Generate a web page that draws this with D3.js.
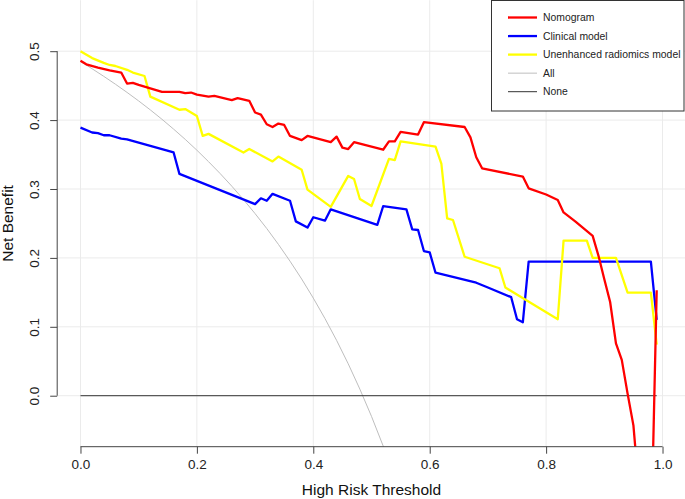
<!DOCTYPE html>
<html><head><meta charset="utf-8">
<script src="https://cdn.jsdelivr.net/npm/d3@7"></script>
<style>
html,body{margin:0;padding:0;background:#fff;}
svg{display:block;font-family:"Liberation Sans",Arial,Helvetica,sans-serif;}
</style></head>
<body><svg id="chart" width="685" height="499"></svg>
<script>
// ---- data ----
const xTicks = [0, 0.2, 0.4, 0.6, 0.8, 1.0];
const yTicks = [0, 0.1, 0.2, 0.3, 0.4, 0.5];

const nomogramX = [0,0.01,0.03,0.05,0.07,0.08,0.09,0.10,0.12,0.14,0.17,0.18,0.19,0.20,0.22,0.23,0.26,0.27,0.29,0.30,0.31,0.32,0.33,0.34,0.35,0.36,0.38,0.39,0.43,0.44,0.45,0.46,0.47,0.52,0.53,0.54,0.55,0.58,0.59,0.66,0.67,0.68,0.69,0.76,0.77,0.80,0.82,0.83,0.85,0.88,0.89,0.90,0.91,0.92,0.93,0.94,0.95,0.96,0.97,0.98,0.99];
const nomogramY = [0.486,0.481,0.476,0.472,0.469,0.453,0.454,0.451,0.446,0.441,0.441,0.439,0.440,0.437,0.434,0.435,0.429,0.432,0.428,0.411,0.408,0.394,0.390,0.395,0.393,0.377,0.371,0.377,0.368,0.376,0.360,0.358,0.368,0.357,0.369,0.369,0.383,0.379,0.397,0.390,0.375,0.346,0.330,0.318,0.301,0.292,0.284,0.266,0.253,0.232,0.203,0.169,0.136,0.076,0.052,0.003,-0.043,-0.142,-0.190,-0.225,0.153];

const clinicalX = [0,0.02,0.03,0.04,0.05,0.07,0.08,0.16,0.17,0.30,0.31,0.32,0.33,0.36,0.37,0.39,0.40,0.42,0.43,0.51,0.52,0.56,0.57,0.58,0.59,0.60,0.61,0.68,0.70,0.74,0.75,0.76,0.77,0.98,0.99];
const clinicalY = [0.389,0.382,0.381,0.378,0.378,0.373,0.372,0.353,0.322,0.278,0.2865,0.283,0.293,0.283,0.253,0.244,0.259,0.254,0.2705,0.248,0.275,0.2705,0.2415,0.2405,0.210,0.208,0.1785,0.164,0.157,0.143,0.111,0.1065,0.1945,0.1945,0.110];

const radiomicsX = [0,0.02,0.04,0.05,0.06,0.08,0.09,0.11,0.12,0.17,0.18,0.20,0.21,0.22,0.28,0.29,0.33,0.34,0.38,0.39,0.43,0.46,0.47,0.48,0.50,0.53,0.54,0.55,0.61,0.62,0.63,0.64,0.66,0.72,0.73,0.82,0.83,0.87,0.88,0.92,0.94,0.98,0.99];
const radiomicsY = [0.500,0.490,0.483,0.480,0.4785,0.473,0.469,0.464,0.434,0.415,0.416,0.406,0.377,0.380,0.353,0.358,0.340,0.347,0.328,0.299,0.274,0.319,0.3145,0.2855,0.2753,0.3436,0.342,0.369,0.3614,0.337,0.2575,0.255,0.2017,0.185,0.157,0.111,0.225,0.225,0.200,0.200,0.1495,0.1495,0.074];

const allX = [0,0.02,0.04,0.06,0.08,0.10,0.12,0.14,0.16,0.18,0.20,0.22,0.24,0.26,0.28,0.30,0.32,0.34,0.36,0.38,0.40,0.42,0.44,0.46,0.48,0.50,0.52,0.54];
const allY = [0.485,0.4745,0.4635,0.4521,0.4402,0.4278,0.4148,0.4012,0.3869,0.3720,0.3563,0.3397,0.3224,0.3041,0.2847,0.2643,0.2427,0.2197,0.1953,0.1694,0.1417,0.1121,0.0804,0.0463,0.0096,-0.030,-0.0729,-0.119];

const noneX = [0, 0.99];
const noneY = [0, 0];

const seriesNames = ["Nomogram","Clinical model","Unenhanced radiomics model","All","None"];
const seriesColors = ["#ff0000","#0000ff","#ffff00","#bebebe","#333333"];
const seriesWidths = [2.3,2.3,2.3,1,1];

// ---- layout ----
const svg = d3.select("#chart");
const pLeft = 57.2, pRight = 685.8, pTop = 0.2, pBottom = 446.7;
const x = d3.scaleLinear().domain([-0.04, 1.04]).range([pLeft, pRight]);
const y = d3.scaleLinear().domain([-0.074, 0.574]).range([pBottom, pTop]);

// grid
const grid = svg.append("g");
grid.selectAll("line.vg").data(xTicks).enter().append("line")
  .attr("x1", d => x(d)).attr("x2", d => x(d)).attr("y1", pTop).attr("y2", pBottom)
  .attr("stroke", "#ebebeb").attr("stroke-width", 1);
grid.selectAll("line.hg").data(yTicks).enter().append("line")
  .attr("x1", pLeft).attr("x2", pRight).attr("y1", d => y(d)).attr("y2", d => y(d))
  .attr("stroke", "#ebebeb").attr("stroke-width", 1);

// clip
svg.append("defs").append("clipPath").attr("id","clip").append("rect")
  .attr("x", pLeft).attr("y", pTop).attr("width", pRight-pLeft).attr("height", pBottom-pTop);

const series = [
  {x: allX, y: allY, k: 3},
  {x: noneX, y: noneY, k: 4},
  {x: clinicalX, y: clinicalY, k: 1},
  {x: radiomicsX, y: radiomicsY, k: 2},
  {x: nomogramX, y: nomogramY, k: 0}
];
const line = d3.line().x(d => x(d[0])).y(d => y(d[1]));
const plot = svg.append("g").attr("clip-path","url(#clip)");
series.forEach(s => {
  const pts = s.x.map((v, j) => [v, s.y[j]]);
  plot.append("path").datum(pts)
    .attr("d", line)
    .attr("fill","none")
    .attr("stroke", seriesColors[s.k])
    .attr("stroke-width", seriesWidths[s.k])
    .attr("stroke-linejoin","round");
});

// axes
const axisColor = "#444";
const xAxis = d3.axisBottom(x).tickValues(xTicks).tickSize(7).tickPadding(6).tickFormat(d3.format(".1f"));
const gx = svg.append("g").attr("transform", `translate(0,${pBottom})`).call(xAxis);
gx.select(".domain").remove();
gx.append("line").attr("x1", x(0)).attr("x2", x(1)).attr("stroke", axisColor);
gx.selectAll(".tick line").attr("stroke", axisColor);
gx.selectAll(".tick text").attr("fill","#222").style("font-size","13.5px")
  .style("font-family",'"Liberation Sans",Arial,sans-serif');

const yAxis = d3.axisLeft(y).tickValues(yTicks).tickSize(7).tickFormat(d3.format(".1f"));
const gy = svg.append("g").attr("transform", `translate(${pLeft},0)`).call(yAxis);
gy.select(".domain").remove();
gy.append("line").attr("y1", y(0)).attr("y2", y(0.5)).attr("stroke", axisColor);
gy.selectAll(".tick line").attr("stroke", axisColor);
gy.selectAll(".tick text")
  .attr("x", null).attr("dy", null)
  .attr("text-anchor","middle")
  .attr("transform", "translate(-18,0) rotate(-90)")
  .attr("fill","#222").style("font-size","13.5px")
  .style("font-family",'"Liberation Sans",Arial,sans-serif');

// titles
svg.append("text").attr("x", (pLeft+pRight)/2).attr("y", 495)
  .attr("text-anchor","middle").style("font-size","15.5px").attr("fill","#111")
  .text("High Risk Threshold");
svg.append("text").attr("transform", `translate(12.5,${(pTop+pBottom)/2}) rotate(-90)`)
  .attr("text-anchor","middle").style("font-size","15.5px").attr("fill","#111")
  .text("Net Benefit");

// legend
const lg = svg.append("g");
lg.append("rect").attr("x", 491.5).attr("y", 0.5).attr("width", 192.5).attr("height", 110.5)
  .attr("fill","#fff").attr("stroke","#333").attr("stroke-width",1);
const rowY = d3.scalePoint().domain(seriesNames).range([17.5, 91.7]);
seriesNames.forEach((n, i) => {
  const yy = rowY(n);
  lg.append("line").attr("x1", 508).attr("x2", 537).attr("y1", yy).attr("y2", yy)
    .attr("stroke", seriesColors[i]).attr("stroke-width", seriesWidths[i] === 1 ? 1 : 2.3);
  lg.append("text").attr("x", 543).attr("y", yy).attr("dy","0.35em")
    .style("font-size","10.4px").attr("fill","#222").text(n);
});
</script>
</body></html>
